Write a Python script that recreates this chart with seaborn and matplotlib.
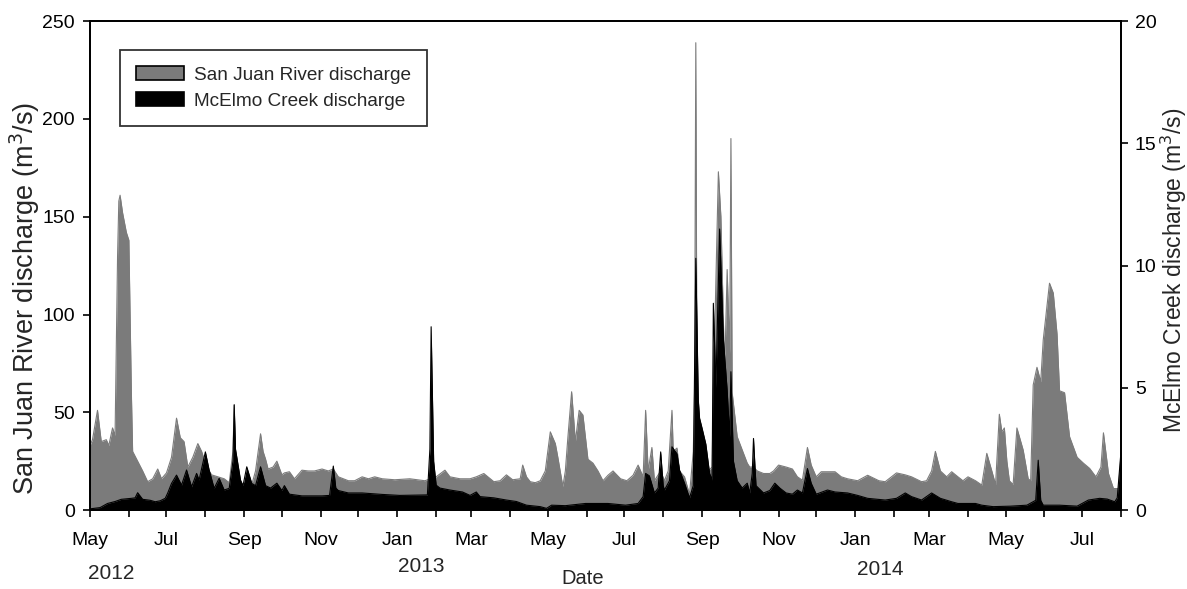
import matplotlib
matplotlib.use("Agg")
import matplotlib.pyplot as plt
import matplotlib.dates as mdates
from matplotlib.patches import Patch
import seaborn as sns
import pandas as pd

# days after 1 May 2012
sj_day = [0, 2, 6, 9, 13, 15, 18, 20, 22, 23, 24, 26, 29, 31, 33, 34, 38, 42, 46, 50,
          54, 57, 61, 65, 69, 72, 75, 78, 82, 86, 89, 93, 97, 102, 107, 111, 114, 115, 116, 120,
          125, 129, 132, 136, 138, 140, 142, 146, 149, 153, 155, 159, 163, 169, 174, 179, 185, 190, 194, 198,
          206, 211, 217, 222, 227, 233, 243, 255, 267, 276, 283, 287, 295, 303, 308, 314, 322, 327, 332, 337,
          343, 345, 348, 351, 355, 359, 363, 367, 371, 373, 377, 379, 381, 384, 387, 390, 393, 397, 401, 405,
          409, 413, 417, 423, 428, 433, 437, 441, 443, 445, 448, 450, 455, 458, 461, 464, 465, 468, 470, 474,
          478, 481, 482, 483, 484, 488, 490, 493, 496, 497, 501, 503, 506, 508, 510, 511, 512, 516, 520, 524,
          526, 529, 532, 537, 542, 545, 549, 555, 560, 564, 568, 572, 575, 579, 583, 588, 594, 599, 604, 612,
          620, 629, 634, 643, 650, 655, 663, 667, 671, 674, 678, 683, 687, 692, 696, 700, 706, 711, 715, 719,
          722, 725, 727, 729, 731, 733, 736, 739, 744, 748, 750, 752, 755, 758, 760, 765, 768, 771, 773, 777,
          781, 787, 792, 797, 802, 806, 808, 812, 816, 820, 822]
sj_q = [33, 36, 51, 35, 36, 33, 42, 38, 130, 158, 161, 152, 142, 138, 60, 30, 25, 20, 14.5, 16,
        21, 16, 19, 27, 47, 37, 35, 22, 27, 34, 30, 22, 18, 17, 16, 14, 30, 54, 20, 13,
        13, 13, 20, 39, 30, 26, 21, 22, 25, 18, 19, 19.6, 16, 20.4, 20, 20, 21, 20, 21, 17,
        15, 15, 17, 16, 17, 16, 15.5, 16, 15, 17, 20.4, 17, 16, 16, 17, 18.7, 14.5, 15, 18, 15.5,
        16, 23, 17, 14.5, 14, 15, 20, 40, 34, 27, 12, 20, 37, 60.5, 35, 51, 48.6, 26, 24, 20,
        15, 17.8, 20, 16, 15, 17.8, 23, 17, 51, 20, 32, 15, 20, 15, 20, 51, 30, 31.7, 20, 17,
        8, 30, 60, 239, 50, 40, 33, 20, 22, 60, 173, 150, 70, 123, 80, 190, 60, 37.5, 30.7, 24,
        22, 22, 20, 18.7, 18.7, 20, 23, 22, 21, 17, 15.3, 32, 23, 17, 19.6, 19.6, 19.6, 17, 16, 15,
        17.8, 15, 14.5, 19, 18, 17, 14.5, 15, 20, 30, 20, 17, 19.6, 17, 15, 17, 15, 12.8, 29, 20,
        13, 49, 40, 42, 25, 15, 13, 42, 30.7, 16, 15, 64, 73, 65.6, 87, 116, 111, 90, 61, 60,
        37.5, 27, 24, 21.3, 17, 22, 39.5, 18.7, 11, 11, 28]

mc_day = [0, 8, 14, 20, 25, 33, 36, 38, 42, 48, 52, 56, 60, 62, 65, 69, 73, 77, 81, 85,
          87, 92, 95, 99, 103, 107, 111, 114, 115, 116, 120, 122, 125, 129, 132, 136, 140, 144, 149, 153,
          155, 159, 169, 185, 191, 194, 196, 198, 206, 217, 233, 247, 269, 271, 272, 274, 276, 279, 287, 297,
          303, 308, 311, 322, 332, 340, 348, 359, 364, 368, 379, 395, 413, 427, 437, 441, 443, 446, 450, 453,
          455, 457, 458, 462, 464, 468, 470, 474, 478, 481, 483, 485, 486, 488, 491, 494, 496, 497, 499, 502,
          505, 508, 510, 511, 513, 516, 520, 524, 526, 528, 529, 531, 537, 542, 546, 550, 555, 560, 564, 568,
          572, 575, 579, 588, 594, 604, 612, 620, 634, 643, 650, 655, 663, 671, 678, 687, 692, 706, 711, 720,
          734, 747, 754, 756, 758, 760, 773, 787, 796, 805, 811, 817, 819, 822]
mc_q = [0.05, 0.1, 0.27, 0.35, 0.44, 0.48, 0.5, 0.71, 0.44, 0.4, 0.34, 0.38, 0.48, 0.7, 1.09, 1.43, 1.02, 1.64, 0.95, 1.5,
        1.23, 2.38, 1.64, 0.89, 1.3, 0.82, 0.89, 2.0, 4.3, 2.5, 1.23, 1.0, 1.77, 1.09, 1.0, 1.77, 1.0, 0.9, 1.1, 0.8,
        1.0, 0.65, 0.58, 0.58, 0.6, 1.8, 0.9, 0.8, 0.7, 0.7, 0.64, 0.6, 0.62, 2.5, 7.5, 2.0, 1.02, 0.9, 0.82, 0.74,
        0.6, 0.74, 0.55, 0.5, 0.41, 0.35, 0.2, 0.14, 0.07, 0.2, 0.18, 0.27, 0.27, 0.2, 0.27, 0.55, 1.5, 1.4, 0.7, 0.9,
        2.38, 1.0, 0.82, 1.2, 2.59, 2.3, 1.64, 1.1, 0.5, 1.0, 10.3, 4.5, 3.76, 3.35, 2.7, 1.5, 1.23, 8.46, 5.0, 11.5,
        7.0, 4.9, 3.0, 5.66, 2.0, 1.2, 0.9, 1.1, 0.7, 1.5, 2.93, 1.0, 0.7, 0.8, 1.1, 0.9, 0.7, 0.65, 0.82, 0.7,
        1.7, 1.1, 0.65, 0.82, 0.74, 0.7, 0.6, 0.48, 0.41, 0.48, 0.7, 0.55, 0.41, 0.7, 0.48, 0.34, 0.27, 0.27, 0.2, 0.14,
        0.16, 0.2, 0.4, 2.04, 0.4, 0.2, 0.2, 0.16, 0.41, 0.48, 0.45, 0.34, 0.5, 2.4]

month_names = ["Jan", "", "Mar", "", "May", "", "Jul", "", "Sep", "", "Nov", ""]
years = ["2012", "2013", "2014"]

start = pd.Timestamp("2012-05-01")
sj = pd.DataFrame({"date": start + pd.to_timedelta(sj_day, unit="D"), "q": sj_q})
mc = pd.DataFrame({"date": start + pd.to_timedelta(mc_day, unit="D"), "q": mc_q})

sns.set_style("ticks")
plt.rcParams["font.family"] = ["Liberation Sans", "DejaVu Sans"]

fig = plt.figure(figsize=(11.87, 5.89), dpi=100)
ax = fig.add_axes([0.0758, 0.134, 0.8686, 0.830])
ax2 = ax.twinx()

gray = "#7b7b7b"
ax.fill_between(sj["date"], 0, sj["q"], color=gray, lw=0)
sns.lineplot(data=sj, x="date", y="q", ax=ax, color=gray, lw=0.8)
ax2.fill_between(mc["date"], 0, mc["q"], color="black", lw=0)
sns.lineplot(data=mc, x="date", y="q", ax=ax2, color="black", lw=0.8)

ax.set_xlim(pd.Timestamp("2012-05-01"), pd.Timestamp("2014-08-01"))
ax.set_ylim(0, 250)
ax2.set_ylim(0, 20)
ax.set_yticks(range(0, 251, 50))
ax2.set_yticks(range(0, 21, 5))

ax.xaxis.set_major_locator(mdates.MonthLocator())
ax.xaxis.set_major_formatter(plt.FuncFormatter(
    lambda v, pos: month_names[mdates.num2date(v).month - 1]))

for a in (ax, ax2):
    a.tick_params(axis="both", labelsize=14, length=5, width=1.2, direction="out", colors="black")
    for s in a.spines.values():
        s.set_linewidth(1.3)
        s.set_color("black")
ax.tick_params(axis="x", pad=11)
ax.tick_params(axis="y", pad=6)
ax2.tick_params(axis="y", pad=5)

ax.set_xlabel("Date", fontsize=14.5)
ax.xaxis.set_label_coords(0.478, -0.12)
ax.set_ylabel("San Juan River discharge (m$^3$/s)", fontsize=19.5)
ax.yaxis.set_label_coords(-0.063, 0.434)
ax.yaxis.label.set_va("center")
ax2.set_ylabel("McElmo Creek discharge (m$^3$/s)", fontsize=16.5)
ax2.yaxis.set_label_coords(1.0515, 0.49)
ax2.yaxis.label.set_va("center")

# year labels under the month labels
for yr, d, dy in zip(years, ["2012-05-18", "2013-01-20", "2014-01-21"], [0.111, 0.096, 0.102]):
    ax.text(mdates.date2num(pd.Timestamp(d)), -dy, yr, transform=ax.get_xaxis_transform(),
            ha="center", va="top", fontsize=15)

handles = [Patch(facecolor=gray, edgecolor="black", lw=1.2, label="San Juan River discharge"),
           Patch(facecolor="black", edgecolor="black", lw=1.2, label="McElmo Creek discharge")]
leg = ax2.legend(handles=handles, loc="upper left", bbox_to_anchor=(0.029, 0.941),
                 borderaxespad=0, fontsize=13.7, frameon=True, fancybox=False, edgecolor="black",
                 borderpad=0.85, handlelength=2.5, handleheight=0.75, handletextpad=0.55,
                 labelspacing=0.45)
leg.get_frame().set_linewidth(1.3)

fig.savefig("out.png", dpi=100)
